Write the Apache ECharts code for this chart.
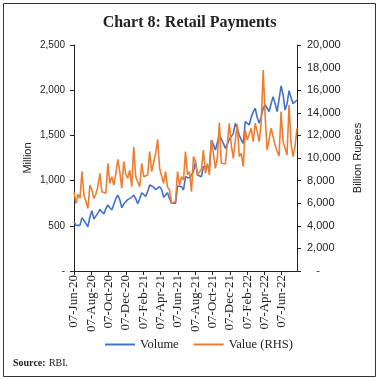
<!DOCTYPE html>
<html><head><meta charset="utf-8">
<script src="https://cdn.jsdelivr.net/npm/echarts@6/dist/echarts.min.js"></script>
<style>html,body{margin:0;padding:0;background:#fff}#c{width:379px;height:380px}</style>
</head><body><div id="c"></div>
<script>
// ---- Data ----
const startDate = '07-Jun-20'; // first weekly observation
const tickLabels = ['07-Jun-20','07-Aug-20','07-Oct-20','07-Dec-20','07-Feb-21','07-Apr-21','07-Jun-21','07-Aug-21','07-Oct-21','07-Dec-21','07-Feb-22','07-Apr-22','07-Jun-22'];
const volume = [
 545,505,500,505,590,560,545,490,600,667,
 575,590,640,682,655,630,690,730,700,675,
 690,800,840,790,700,740,767,790,805,815,
 840,800,745,800,866,850,825,880,951,945,
 930,900,910,933,900,815,840,866,800,750,
 745,
 750,940,935,933,896,1043,1030,1025,1007,1100,
 1210,1062,1050,1043,1154,1160,1162,1136,1449,1400,
 1339,1420,1505,1460,1412,1357,1400,1457,1449,1520,
 1634,1580,1505,1450,1412,1652,1640,1615,1700,
 1760,1800,1700,1634,1700,1800,1836,1800,1763,1850,
 1929,1850,1763,1900,2047,1950,1782,1850,1995,1920,
 1850,1836,1892
];
const value = [
 7020,5990,6790,6430,8790,6730,6810,5550,7610,7170,
 6430,6790,7500,8640,7020,7170,6870,9530,7760,8350,
 7610,8600,9880,8790,7320,9680,8600,8200,8940,7460,
 11000,8350,8500,7460,9530,8350,8400,8500,10560,8790,
 9600,10410,11650,9090,8400,7760,8790,7400,7170,5990,
 6000,
 6140,8790,7610,8350,8050,10560,8500,8790,7020,10120,
 9680,8500,8350,9000,10710,8640,9530,8500,11590,10410,
 9090,10000,13130,9530,9380,9470,9400,13070,11150,9970,
 11500,13010,10120,10410,9230,12480,11590,11450,12630,
 11450,13070,12330,11450,13070,17790,13660,10710,10710,12630,
 11890,11150,10600,10180,14100,11450,11300,10270,14690,11300,
 10120,11000,12630
];
// ---- Helpers ----
const MONTHS = {Jan:0,Feb:1,Mar:2,Apr:3,May:4,Jun:5,Jul:6,Aug:7,Sep:8,Oct:9,Nov:10,Dec:11};
const DAY = 86400000;
function labelToTime(s){const p=s.split('-');return Date.UTC(2000+ +p[2],MONTHS[p[1]],+p[0]);}
const t0 = labelToTime(startDate);
const tickDays = tickLabels.map(s=>Math.round((labelToTime(s)-t0)/DAY));
const volData = volume.map((v,i)=>[i*7,v]);
const valData = value.map((v,i)=>[i*7,v]);
const lastDay = (Math.max(volume.length,value.length)-1)*7;
const fmt = n => n.toString().replace(/\B(?=(\d{3})+(?!\d))/g, ',');

const chart = echarts.init(document.getElementById('c'), null, {renderer:'canvas'});
chart.setOption({
  animation:false,
  title:{text:'Chart 8: Retail Payments',left:'center',top:10,
    textStyle:{fontFamily:'Liberation Serif',fontWeight:'bold',fontSize:16,color:'#222'}},
  grid:{left:74,right:82,top:45,bottom:109,containLabel:false},
  legend:{bottom:24,left:100,itemWidth:30,itemHeight:2,itemGap:15,icon:'rect',
    textStyle:{fontFamily:'Liberation Serif',fontSize:12.5,color:'#222'},
    data:['Volume','Value (RHS)']},
  xAxis:{type:'value',min:0,max:lastDay,
    axisLine:{show:true,lineStyle:{color:'#222',width:1}},
    axisTick:{show:true,length:4,customValues:tickDays,lineStyle:{color:'#222'}},
    axisLabel:{rotate:90,customValues:tickDays,fontFamily:'Liberation Serif',fontSize:13,color:'#222',margin:4,
      formatter:v=>{const k=tickDays.indexOf(v);return k>=0?tickLabels[k]:'';}},
    splitLine:{show:false}},
  yAxis:[
    {type:'value',min:0,max:2500,interval:500,name:'Million',nameLocation:'middle',nameGap:41,nameMoveOverlap:false,
     nameTextStyle:{fontFamily:'Liberation Sans',fontSize:11,color:'#222'},
     axisLine:{show:true,lineStyle:{color:'#222'}},axisTick:{show:true,length:4,lineStyle:{color:'#222'}},
     axisLabel:{fontFamily:'Liberation Sans',fontSize:10,color:'#222',margin:9,formatter:v=>v===0?'-':fmt(v)},
     splitLine:{show:false}},
    {type:'value',min:0,max:20000,interval:2000,name:'Billion Rupees',nameLocation:'middle',nameGap:55,nameMoveOverlap:false,
     nameTextStyle:{fontFamily:'Liberation Sans',fontSize:11,color:'#222'},
     axisLine:{show:true,lineStyle:{color:'#222'}},axisTick:{show:true,length:4,lineStyle:{color:'#222'}},
     axisLabel:{fontFamily:'Liberation Sans',fontSize:11,color:'#222',margin:10,formatter:v=>v===0?'   -':fmt(v)},
     splitLine:{show:false}}
  ],
  series:[
    {name:'Volume',type:'line',yAxisIndex:0,data:volData,showSymbol:false,
     lineStyle:{color:'#4472C4',width:1.6},itemStyle:{color:'#4472C4'}},
    {name:'Value (RHS)',type:'line',yAxisIndex:1,data:valData,showSymbol:false,
     lineStyle:{color:'#ED7D31',width:1.6},itemStyle:{color:'#ED7D31'}}
  ],
  graphic:[
    {type:'rect',shape:{x:3.5,y:3.5,width:372,height:373},style:{fill:null,stroke:'#333',lineWidth:1}},
    {type:'text',left:13,top:357,style:{rich:{b:{fontWeight:'bold',fontFamily:'Liberation Serif',fontSize:10,fill:'#222'},n:{fontFamily:'Liberation Serif',fontSize:10,fill:'#222'}},text:'{b|Source:} {n|RBI.}'}}
  ]
});
</script></body></html>
